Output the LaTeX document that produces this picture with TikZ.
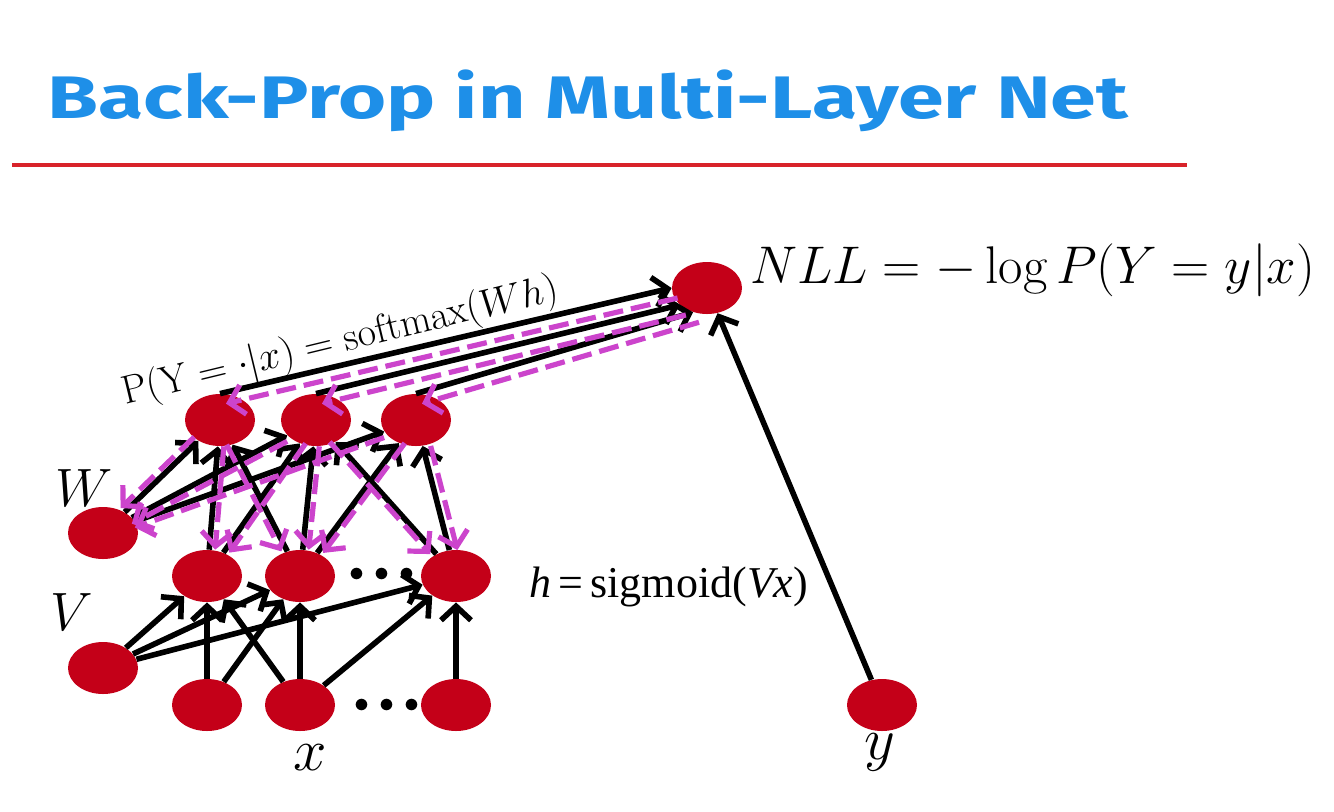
\RequirePackage{fix-cm}
\documentclass[tikz,border=0pt]{standalone}
\usepackage{fontspec}
\usepackage{amsmath}
\newfontfamily\titlefont{Fira Sans}
\newfontfamily\timesfont{Liberation Serif}
\usepackage{xcolor}
\definecolor{nred}{HTML}{C40018}
\definecolor{bmag}{HTML}{CC44CC}
\definecolor{tblue}{HTML}{1E8FE8}
\definecolor{tred}{HTML}{D8232A}
\usepackage{tikz}
\usetikzlibrary{arrows.meta,shapes.geometric}

\begin{document}
\begin{tikzpicture}[x=0.5pt,y=-0.5pt,
  neuron/.style={ellipse,fill=nred,minimum width=35pt,minimum height=26pt,inner sep=0pt},
  fwd/.style={line width=2.8pt,-{Straight Barb[length=7pt,width=15pt]}},
  bwd/.style={bmag,line width=2.6pt,dash pattern=on 10pt off 4pt,-{Straight Barb[length=7pt,width=15pt]}},
  dots/.style={font=\fontsize{15}{18}\selectfont,inner sep=0pt}]
\useasboundingbox (0,0) rectangle (1334,811);
% title and rule
\node[anchor=base,font=\titlefont\bfseries\fontsize{30}{36}\selectfont\color{tblue}] (title) at (588,118)
  {\scalebox{1.375}[1]{Back-Prop in Multi-Layer Net}};
\draw[tred,line width=2pt] (12,165) -- (1187,165);
% units: loss, output, hidden, input
\node[neuron] (nll) at (707,288) {};
\foreach \i/\px in {1/220,2/316,3/416}{ \node[neuron] (o\i) at (\px,420) {}; }
\node[neuron] (bW) at (103,533) {};
\foreach \i/\px in {1/207,2/300,3/456}{ \node[neuron] (h\i) at (\px,576) {}; }
\node[neuron] (bV) at (103,668) {};
\foreach \i/\px in {1/207,2/300,3/456}{ \node[neuron] (x\i) at (\px,705) {}; }
\node[neuron] (yn) at (882,705) {};
\node[dots] (hdots) at (382,575) {$\bullet\hspace{1.5pt}\bullet\hspace{1.5pt}\bullet$};
\node[dots] (xdots) at (387,706) {$\bullet\hspace{1.5pt}\bullet\hspace{1.5pt}\bullet$};
% input -> hidden
\foreach \a/\b in {bV/h1,bV/h2,bV/h3,x1/h1,x1/h2,x2/h1,x2/h2,x2/h3,x3/h3}{
  \draw[fwd] (\a) -- (\b); }
% hidden -> output, forward and back
\foreach \a/\b/\dx/\dy in {bW/o1/-2pt/2pt,bW/o2/0pt/-3pt,bW/o3/0pt/-3pt,
    h1/o1/3pt/0pt,h1/o2/3pt/0pt,h2/o1/-3pt/0pt,h2/o2/3pt/0pt,h2/o3/3pt/0pt,
    h3/o2/-3pt/0pt,h3/o3/4pt/0pt}{
  \draw[fwd] (\a) -- (\b); }
\foreach \a/\b/\dx/\dy in {bW/o1/-2pt/2pt,bW/o2/0pt/-3pt,bW/o3/0pt/-3pt,
    h1/o1/3pt/0pt,h1/o2/3pt/0pt,h2/o1/-3pt/0pt,h2/o2/3pt/0pt,h2/o3/3pt/0pt,
    h3/o2/-3pt/0pt,h3/o3/4pt/0pt}{
  \draw[bwd,transform canvas={shift={(\dx,\dy)}}] (\b) -- (\a); }
% output -> loss
\foreach \i/\t in {1/180,2/212,3/240}{ \draw[fwd] (o\i.north) -- (nll.\t); }
\foreach \i/\t in {1/180,2/212,3/240}{
  \draw[bwd,transform canvas={shift={(3pt,-5pt)}}] (nll.\t) -- (o\i.north); }
\draw[fwd] (yn) -- (nll);
% labels
\node[anchor=base west,font=\fontsize{26.5}{30}\selectfont] (lnll) at (743,283)
  {$NLL=-\log P(Y=y|x)$};
\node[anchor=base,rotate=13.6,font=\fontsize{20}{24}\selectfont] (lsoft) at (343,352)
  {$\mathrm{P(Y}=\cdot|x)=\mathrm{softmax}(Wh)$};
\node[anchor=base west,font=\timesfont\fontsize{22}{26}\selectfont] (lsig) at (522,597)
  {\textit{h}\,=\,sigmoid(\textit{Vx})};
\node[font=\fontsize{27}{30}\selectfont] (lW) at (84,488) {$W$};
\node[font=\fontsize{27}{30}\selectfont] (lV) at (72,612) {$V$};
\node[font=\fontsize{30}{34}\selectfont] (lx) at (310,758) {$x$};
\node[font=\fontsize{30}{34}\selectfont] (ly) at (880,752) {$y$};
\end{tikzpicture}
\end{document}
